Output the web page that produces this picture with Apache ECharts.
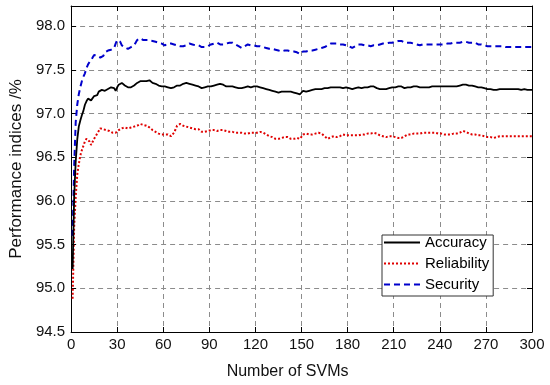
<!DOCTYPE html>
<html>
<head>
<meta charset="utf-8">
<script src="https://cdn.jsdelivr.net/npm/echarts@6/dist/echarts.min.js"></script>
<style>html,body{margin:0;padding:0;background:#fff}#c{width:550px;height:385px}</style>
</head>
<body>
<div id="c"></div>
<script>
const seriesNames = ['Accuracy', 'Reliability', 'Security'];
const xTicks = [0, 30, 60, 90, 120, 150, 180, 210, 240, 270, 300];
const yTicks = [94.5, 95.0, 95.5, 96.0, 96.5, 97.0, 97.5, 98.0];

const accuracy = [
95.22, 96.05, 96.45, 96.70, 96.85, 96.92, 96.98, 97.03, 97.10, 97.14,
97.17, 97.17, 97.15, 97.16, 97.20, 97.22, 97.21, 97.25, 97.24, 97.27,
97.27, 97.26, 97.27, 97.28, 97.29, 97.30, 97.31, 97.29, 97.26, 97.30,
97.33, 97.34, 97.35, 97.33, 97.32, 97.31, 97.30, 97.31, 97.30, 97.31,
97.32, 97.34, 97.35, 97.36, 97.37, 97.36, 97.37, 97.36, 97.37, 97.37,
97.38, 97.36, 97.35, 97.34, 97.34, 97.33, 97.32, 97.31, 97.31, 97.30,
97.31, 97.30, 97.30, 97.29, 97.29, 97.30, 97.30, 97.31, 97.32, 97.33,
97.32, 97.33, 97.34, 97.34, 97.35, 97.35, 97.34, 97.34, 97.33, 97.33,
97.32, 97.31, 97.31, 97.30, 97.29, 97.29, 97.30, 97.31, 97.31, 97.31,
97.31, 97.31, 97.32, 97.32, 97.33, 97.33, 97.34, 97.34, 97.33, 97.32,
97.31, 97.31, 97.31, 97.31, 97.31, 97.30, 97.30, 97.29, 97.29, 97.29,
97.29, 97.30, 97.30, 97.31, 97.31, 97.30, 97.30, 97.30, 97.31, 97.31,
97.31, 97.30, 97.30, 97.30, 97.29, 97.29, 97.28, 97.28, 97.27, 97.26,
97.26, 97.25, 97.25, 97.25, 97.24, 97.25, 97.25, 97.25, 97.25, 97.25,
97.25, 97.25, 97.25, 97.24, 97.24, 97.23, 97.23, 97.21, 97.22, 97.24,
97.26, 97.26, 97.25, 97.25, 97.26, 97.26, 97.27, 97.27, 97.28, 97.28,
97.28, 97.28, 97.28, 97.29, 97.29, 97.29, 97.29, 97.30, 97.30, 97.31,
97.30, 97.30, 97.30, 97.30, 97.30, 97.29, 97.29, 97.29, 97.30, 97.30,
97.29, 97.29, 97.28, 97.29, 97.29, 97.29, 97.30, 97.30, 97.29, 97.30,
97.30, 97.30, 97.30, 97.31, 97.31, 97.31, 97.31, 97.30, 97.29, 97.28,
97.28, 97.28, 97.28, 97.28, 97.28, 97.29, 97.29, 97.29, 97.30, 97.30,
97.30, 97.31, 97.31, 97.31, 97.31, 97.30, 97.29, 97.29, 97.30, 97.30,
97.30, 97.30, 97.31, 97.31, 97.31, 97.30, 97.30, 97.30, 97.30, 97.30,
97.30, 97.30, 97.30, 97.30, 97.31, 97.31, 97.31, 97.31, 97.31, 97.31,
97.31, 97.31, 97.31, 97.31, 97.31, 97.31, 97.31, 97.31, 97.31, 97.31,
97.31, 97.32, 97.32, 97.33, 97.33, 97.33, 97.33, 97.33, 97.32, 97.32,
97.32, 97.31, 97.31, 97.31, 97.30, 97.30, 97.30, 97.29, 97.29, 97.29,
97.28, 97.28, 97.28, 97.28, 97.27, 97.27, 97.27, 97.28, 97.28, 97.28,
97.28, 97.28, 97.28, 97.28, 97.28, 97.28, 97.28, 97.28, 97.28, 97.28,
97.28, 97.27, 97.27, 97.28, 97.28, 97.27, 97.27, 97.27, 97.27, 97.27
];

const reliability = [
94.88, 95.70, 96.05, 96.30, 96.42, 96.52, 96.58, 96.63, 96.68, 96.71,
96.72, 96.68, 96.64, 96.66, 96.71, 96.74, 96.77, 96.80, 96.83, 96.84,
96.82, 96.82, 96.81, 96.80, 96.80, 96.79, 96.78, 96.76, 96.78, 96.80,
96.81, 96.82, 96.83, 96.83, 96.84, 96.84, 96.83, 96.83, 96.84, 96.84,
96.85, 96.85, 96.86, 96.87, 96.88, 96.88, 96.87, 96.86, 96.86, 96.85,
96.84, 96.82, 96.81, 96.80, 96.79, 96.78, 96.77, 96.76, 96.76, 96.76,
96.76, 96.77, 96.76, 96.75, 96.74, 96.75, 96.78, 96.82, 96.86, 96.88,
96.88, 96.87, 96.86, 96.86, 96.85, 96.85, 96.84, 96.84, 96.83, 96.82,
96.82, 96.81, 96.82, 96.81, 96.79, 96.78, 96.79, 96.80, 96.80, 96.80,
96.81, 96.82, 96.81, 96.80, 96.80, 96.81, 96.81, 96.82, 96.81, 96.80,
96.80, 96.80, 96.79, 96.79, 96.79, 96.79, 96.78, 96.78, 96.78, 96.78,
96.78, 96.78, 96.77, 96.77, 96.77, 96.77, 96.78, 96.78, 96.78, 96.78,
96.78, 96.79, 96.79, 96.79, 96.78, 96.77, 96.76, 96.75, 96.74, 96.73,
96.73, 96.72, 96.71, 96.71, 96.71, 96.72, 96.72, 96.73, 96.73, 96.73,
96.73, 96.72, 96.71, 96.71, 96.71, 96.72, 96.72, 96.72, 96.71, 96.73,
96.76, 96.77, 96.77, 96.76, 96.76, 96.75, 96.76, 96.76, 96.77, 96.77,
96.78, 96.78, 96.77, 96.75, 96.74, 96.73, 96.71, 96.72, 96.73, 96.74,
96.74, 96.74, 96.73, 96.73, 96.74, 96.75, 96.76, 96.75, 96.75, 96.74,
96.75, 96.75, 96.75, 96.75, 96.75, 96.75, 96.75, 96.75, 96.76, 96.76,
96.76, 96.76, 96.77, 96.77, 96.77, 96.77, 96.78, 96.78, 96.77, 96.76,
96.75, 96.74, 96.74, 96.73, 96.73, 96.74, 96.74, 96.74, 96.74, 96.73,
96.73, 96.73, 96.72, 96.72, 96.72, 96.73, 96.74, 96.75, 96.76, 96.76,
96.76, 96.76, 96.77, 96.77, 96.77, 96.77, 96.77, 96.78, 96.78, 96.78,
96.78, 96.78, 96.78, 96.78, 96.78, 96.78, 96.78, 96.77, 96.77, 96.77,
96.77, 96.77, 96.76, 96.76, 96.76, 96.76, 96.76, 96.77, 96.77, 96.77,
96.77, 96.78, 96.78, 96.79, 96.80, 96.80, 96.79, 96.78, 96.77, 96.77,
96.76, 96.76, 96.76, 96.76, 96.75, 96.75, 96.75, 96.74, 96.74, 96.74,
96.73, 96.73, 96.73, 96.72, 96.72, 96.73, 96.73, 96.74, 96.74, 96.74,
96.74, 96.74, 96.74, 96.74, 96.74, 96.74, 96.74, 96.74, 96.74, 96.74,
96.74, 96.74, 96.74, 96.74, 96.74, 96.74, 96.74, 96.74, 96.74, 96.74
];

const security = [
95.60, 96.40, 96.90, 97.10, 97.22, 97.30, 97.37, 97.42, 97.46, 97.52,
97.56, 97.59, 97.61, 97.64, 97.67, 97.68, 97.66, 97.65, 97.64, 97.62,
97.66, 97.70, 97.71, 97.72, 97.72, 97.73, 97.73, 97.75, 97.80, 97.84,
97.85, 97.82, 97.78, 97.77, 97.76, 97.74, 97.74, 97.75, 97.76, 97.76,
97.78, 97.81, 97.84, 97.85, 97.86, 97.85, 97.84, 97.84, 97.84, 97.84,
97.84, 97.84, 97.83, 97.82, 97.82, 97.81, 97.81, 97.80, 97.80, 97.79,
97.78, 97.79, 97.80, 97.80, 97.80, 97.79, 97.79, 97.78, 97.78, 97.78,
97.77, 97.77, 97.77, 97.77, 97.78, 97.79, 97.80, 97.80, 97.79, 97.79,
97.78, 97.78, 97.78, 97.77, 97.76, 97.75, 97.76, 97.77, 97.77, 97.78,
97.79, 97.79, 97.80, 97.80, 97.81, 97.80, 97.79, 97.79, 97.79, 97.80,
97.80, 97.80, 97.81, 97.81, 97.81, 97.80, 97.79, 97.78, 97.77, 97.76,
97.75, 97.76, 97.77, 97.78, 97.79, 97.79, 97.78, 97.78, 97.78, 97.77,
97.77, 97.77, 97.77, 97.76, 97.76, 97.76, 97.75, 97.75, 97.74, 97.74,
97.74, 97.73, 97.73, 97.72, 97.72, 97.72, 97.71, 97.71, 97.72, 97.72,
97.72, 97.72, 97.71, 97.71, 97.71, 97.70, 97.70, 97.69, 97.68, 97.69,
97.71, 97.71, 97.71, 97.71, 97.72, 97.72, 97.72, 97.73, 97.73, 97.74,
97.74, 97.75, 97.75, 97.76, 97.76, 97.77, 97.78, 97.79, 97.80, 97.80,
97.80, 97.80, 97.80, 97.79, 97.79, 97.79, 97.79, 97.78, 97.78, 97.78,
97.77, 97.76, 97.75, 97.76, 97.77, 97.78, 97.79, 97.80, 97.79, 97.79,
97.78, 97.78, 97.78, 97.77, 97.77, 97.77, 97.78, 97.78, 97.78, 97.79,
97.79, 97.79, 97.80, 97.80, 97.80, 97.80, 97.81, 97.81, 97.81, 97.82,
97.82, 97.82, 97.83, 97.83, 97.83, 97.82, 97.81, 97.81, 97.81, 97.81,
97.81, 97.81, 97.80, 97.80, 97.79, 97.79, 97.78, 97.78, 97.79, 97.79,
97.79, 97.79, 97.79, 97.79, 97.79, 97.79, 97.79, 97.79, 97.79, 97.79,
97.79, 97.79, 97.79, 97.79, 97.80, 97.80, 97.80, 97.81, 97.81, 97.81,
97.81, 97.81, 97.81, 97.82, 97.82, 97.82, 97.82, 97.81, 97.81, 97.81,
97.81, 97.81, 97.81, 97.80, 97.79, 97.79, 97.79, 97.78, 97.78, 97.78,
97.77, 97.77, 97.77, 97.77, 97.77, 97.77, 97.77, 97.77, 97.77, 97.77,
97.77, 97.76, 97.76, 97.76, 97.76, 97.76, 97.76, 97.76, 97.76, 97.76,
97.76, 97.76, 97.76, 97.76, 97.76, 97.76, 97.76, 97.76, 97.76, 97.76
];

const FONT = '"Liberation Sans", Arial, Helvetica, sans-serif';
function pairs(arr) { return arr.map(function (v, i) { return [i + 1, v]; }); }

const gridLine = { show: true, showMinLine: false, showMaxLine: false,
  lineStyle: { color: '#8c8c8c', type: [5, 4], width: 1 } };
const tickIn = { show: true, inside: true, length: 5, lineStyle: { color: '#000', width: 1 } };
const axLine = { show: true, onZero: false, lineStyle: { color: '#000', width: 1 } };

const chart = echarts.init(document.getElementById('c'), null, { renderer: 'canvas' });
chart.setOption({
  animation: false,
  backgroundColor: '#fff',
  grid: { left: 67, right: 18, top: 6, bottom: 51 },
  xAxis: [
    { type: 'value', position: 'bottom', min: xTicks[0], max: xTicks[xTicks.length - 1], interval: 30,
      name: 'Number of SVMs', nameLocation: 'middle', nameGap: 32,
      nameTextStyle: { fontSize: 16, color: '#111', fontFamily: FONT, padding: [0, 28, 0, 0] },
      axisLine: axLine, axisTick: tickIn,
      axisLabel: { fontSize: 15, color: '#111', fontFamily: FONT, margin: 5 },
      splitLine: gridLine },
    { type: 'value', position: 'top', min: xTicks[0], max: xTicks[xTicks.length - 1], interval: 30,
      axisLine: axLine, axisTick: tickIn, axisLabel: { show: false }, splitLine: { show: false } }
  ],
  yAxis: [
    { type: 'value', position: 'left', min: yTicks[0], max: 98.23, interval: 0.5,
      name: 'Performance indices /%', nameLocation: 'middle', nameGap: 45,
      nameTextStyle: { fontSize: 17, color: '#111', fontFamily: FONT },
      axisLine: axLine, axisTick: tickIn,
      axisLabel: { fontSize: 15, color: '#111', fontFamily: FONT, margin: 6, showMaxLabel: false,
        formatter: function (v) { return v.toFixed(1); } },
      splitLine: gridLine },
    { type: 'value', position: 'right', min: yTicks[0], max: 98.23, interval: 0.5,
      axisLine: axLine, axisTick: tickIn, axisLabel: { show: false }, splitLine: { show: false } }
  ],
  legend: {
    orient: 'vertical', left: 382, top: 235, itemWidth: 36, itemHeight: 14, itemGap: 6,
    padding: [0, 4, 4, 1], backgroundColor: '#fff', borderColor: '#333', borderWidth: 1,
    itemStyle: { opacity: 0 },
    textStyle: { fontSize: 15, color: '#000', fontFamily: FONT },
    data: seriesNames
  },
  series: [
    { name: seriesNames[0], type: 'line', data: pairs(accuracy), symbol: 'none', z: 4,
      lineStyle: { color: '#000', width: 1.8 }, itemStyle: { color: '#000' } },
    { name: seriesNames[1], type: 'line', data: pairs(reliability), symbol: 'none', z: 3,
      lineStyle: { color: '#e00000', width: 2, type: [2, 2] }, itemStyle: { color: '#e00000' } },
    { name: seriesNames[2], type: 'line', data: pairs(security), symbol: 'none', z: 3,
      lineStyle: { color: '#0000cc', width: 2, type: [6, 4] }, itemStyle: { color: '#0000cc' } }
  ]
});
</script>
</body>
</html>
